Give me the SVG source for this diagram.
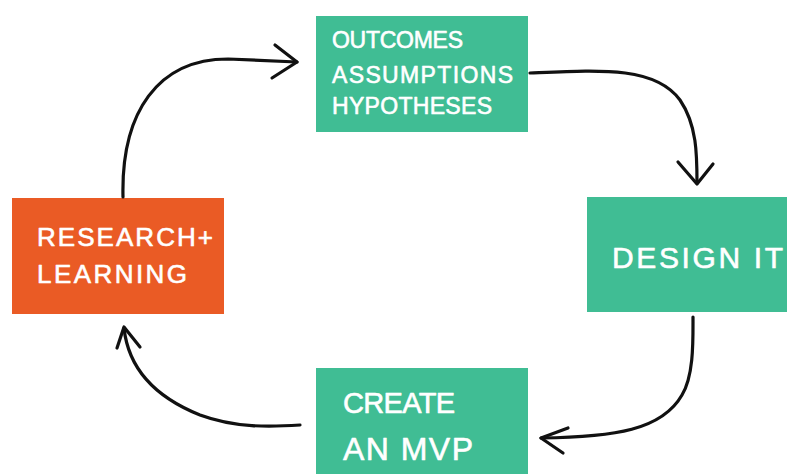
<svg xmlns="http://www.w3.org/2000/svg" width="787" height="474" viewBox="0 0 787 474">
  <style>
    .green { fill: #40bd94; }
    .orange { fill: #ea5b25; }
    .label { fill: #ffffff; stroke: #ffffff; stroke-width: 0.6; stroke-linejoin: round; font-family: "Liberation Sans", Arial, sans-serif; font-weight: normal; }
    .link { fill: none; stroke: #111111; stroke-width: 3.2; stroke-linecap: round; stroke-linejoin: round; }
  </style>
  <rect width="787" height="474" fill="#ffffff"/>

  <g id="outcomes">
    <rect class="green" x="316" y="16" width="212" height="116"/>
    <text class="label" font-size="23" x="332" y="48" textLength="131" lengthAdjust="spacing">OUTCOMES</text>
    <text class="label" font-size="23" x="332" y="83" textLength="181" lengthAdjust="spacing">ASSUMPTIONS</text>
    <text class="label" font-size="23" x="332" y="114" textLength="160" lengthAdjust="spacing">HYPOTHESES</text>
  </g>

  <g id="research">
    <rect class="orange" x="12" y="198" width="212" height="116"/>
    <text class="label" font-size="26" x="37" y="246" textLength="176" lengthAdjust="spacing">RESEARCH+</text>
    <text class="label" font-size="26" x="37" y="283" textLength="150" lengthAdjust="spacing">LEARNING</text>
  </g>

  <g id="design">
    <rect class="green" x="587" y="197" width="200" height="115"/>
    <text class="label" font-size="30" x="612" y="268" textLength="171" lengthAdjust="spacing">DESIGN IT</text>
  </g>

  <g id="mvp">
    <rect class="green" x="316" y="368" width="212" height="106"/>
    <text class="label" font-size="29" x="343" y="413" textLength="112" lengthAdjust="spacing">CREATE</text>
    <text class="label" font-size="32" x="343" y="460" textLength="130" lengthAdjust="spacing">AN MVP</text>
  </g>

  <g id="connectors">
    <!-- research -> outcomes -->
    <path class="link" d="M123,197 C121,112 158,59 228,59 L297,62"/>
    <path class="link" d="M275,45 L297,62 L272,78"/>
    <!-- outcomes -> design -->
    <path class="link" d="M530,73 C600,70 655,66 680,100 C697,125 697,155 697,183"/>
    <path class="link" d="M678,162 L697,184 L713,164"/>
    <!-- design -> mvp -->
    <path class="link" d="M693,317 C693,340 694,375 682,395 C662,430 615,437 541,438"/>
    <path class="link" d="M568,428 L541,438 L563,453"/>
    <!-- mvp -> research -->
    <path class="link" d="M300,425 C270,427 235,428 200,415 C150,395 128,365 124,328"/>
    <path class="link" d="M117,348 L124,327 L140,347"/>
  </g>
</svg>
